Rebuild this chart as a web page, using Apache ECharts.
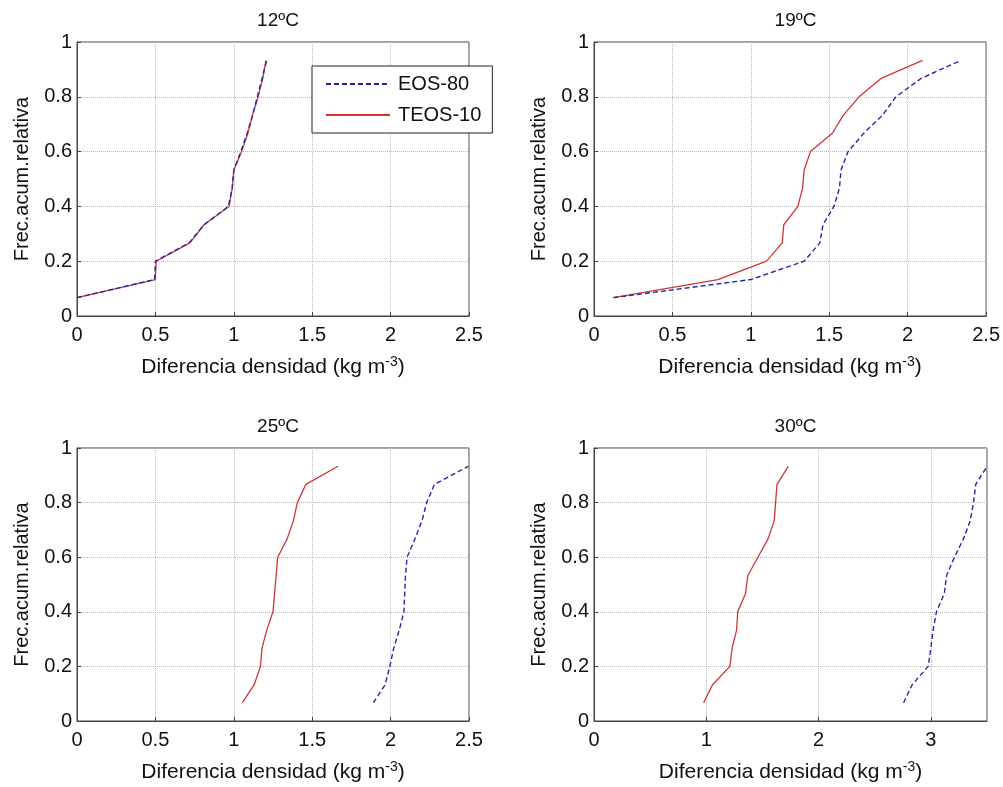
<!DOCTYPE html>
<html>
<head>
<meta charset="utf-8">
<script src="https://cdn.jsdelivr.net/npm/echarts@6/dist/echarts.min.js"></script>
<style>
html,body{margin:0;padding:0;background:#fff;}
#chart{width:1003px;height:787px;}
</style>
</head>
<body>
<div id="chart"></div>
<script>
// cumulative relative frequency (shared y values)
const yFrac = [0.067, 0.133, 0.2, 0.267, 0.333, 0.4, 0.467, 0.533, 0.6, 0.667, 0.733, 0.8, 0.867, 0.933];

const panelTitles = ['12ºC', '19ºC', '25ºC', '30ºC'];
const seriesNames = ['EOS-80', 'TEOS-10'];
const xMaxes = [2.5, 2.5, 2.5, 3.5];
const xIntervals = [0.5, 0.5, 0.5, 1];

// 12ºC
const eos12  = [0.0, 0.495, 0.50, 0.715, 0.81, 0.965, 0.99, 1.00, 1.045, 1.085, 1.12, 1.15, 1.18, 1.21];
const teos12 = [0.0, 0.50, 0.505, 0.72, 0.81, 0.97, 0.99, 1.00, 1.05, 1.09, 1.12, 1.155, 1.185, 1.205];
// 19ºC
const eos19  = [0.123, 1.00, 1.34, 1.44, 1.46, 1.53, 1.565, 1.575, 1.62, 1.72, 1.84, 1.925, 2.085, 2.34];
const teos19 = [0.123, 0.79, 1.10, 1.20, 1.21, 1.30, 1.33, 1.34, 1.38, 1.52, 1.59, 1.69, 1.83, 2.095];
// 25ºC
const eos25  = [1.89, 1.965, 1.995, 2.02, 2.055, 2.085, 2.09, 2.095, 2.105, 2.155, 2.20, 2.23, 2.28, 2.495];
const teos25 = [1.055, 1.13, 1.17, 1.18, 1.21, 1.25, 1.26, 1.27, 1.28, 1.34, 1.38, 1.405, 1.46, 1.665];
// 30ºC
const eos30  = [2.757, 2.834, 2.976, 3.00, 3.02, 3.05, 3.12, 3.14, 3.21, 3.29, 3.35, 3.38, 3.40, 3.50];
const teos30 = [0.976, 1.056, 1.21, 1.23, 1.27, 1.28, 1.35, 1.37, 1.46, 1.55, 1.605, 1.617, 1.63, 1.73];

const eosAll = [eos12, eos19, eos25, eos30];
const teosAll = [teos12, teos19, teos25, teos30];

const FONT = 'Liberation Sans, Arial, sans-serif';
const BLUE = '#2028a8';
const RED = '#d03535';

const grids = [
  {left: 77, top: 42, width: 392, height: 274},
  {left: 594, top: 42, width: 393, height: 274},
  {left: 77, top: 448, width: 392, height: 273},
  {left: 594, top: 448, width: 393, height: 273}
];

function pairs(xs) { return xs.map((x, i) => [x, yFrac[i]]); }

const option = {
  animation: false,
  backgroundColor: '#fff',
  textStyle: {fontFamily: FONT},
  title: grids.map((g, i) => ({
    text: panelTitles[i],
    left: g.left + g.width / 2,
    top: g.top - 36,
    textAlign: 'center',
    textStyle: {fontFamily: FONT, fontSize: 19, fontWeight: 'normal', color: '#111'}
  })),
  legend: {
    data: seriesNames,
    orient: 'vertical',
    left: 312,
    top: 66,
    padding: [8, 11, 8, 13],
    itemGap: 11,
    itemWidth: 64,
    itemHeight: 14,
    backgroundColor: '#fff',
    borderColor: '#222',
    borderWidth: 1,
    borderRadius: 0,
    itemStyle: {opacity: 0},
    textStyle: {fontFamily: FONT, fontSize: 20, color: '#111', padding: [0, 0, 0, 3]}
  },
  grid: grids.map(g => ({
    left: g.left, top: g.top, width: g.width, height: g.height,
    show: true, borderColor: '#444', borderWidth: 1, backgroundColor: '#fff'
  })),
  xAxis: grids.map((g, i) => ({
    type: 'value',
    gridIndex: i,
    min: 0,
    max: xMaxes[i],
    interval: xIntervals[i],
    name: 'Diferencia densidad (kg m{sup|-3})',
    nameLocation: 'middle',
    nameGap: 39,
    nameTextStyle: {
      fontFamily: FONT, fontSize: 21, color: '#111', lineHeight: 24,
      rich: {sup: {fontFamily: FONT, fontSize: 14, color: '#111', verticalAlign: 'top', lineHeight: 12}}
    },
    axisLine: {show: true, lineStyle: {color: '#444', width: 1}},
    axisTick: {show: true, inside: true, length: 4, lineStyle: {color: '#444'}},
    axisLabel: {fontFamily: FONT, fontSize: 20, color: '#111', margin: 9,
      showMaxLabel: xMaxes[i] % xIntervals[i] === 0,
      formatter: v => String(+v.toFixed(2))},
    splitLine: {show: true, lineStyle: {color: '#bbbbbb', type: 'dotted', width: 1}}
  })),
  yAxis: grids.map((g, i) => ({
    type: 'value',
    gridIndex: i,
    min: 0,
    max: 1,
    interval: 0.2,
    name: 'Frec.acum.relativa',
    nameLocation: 'middle',
    nameGap: 45,
    nameTextStyle: {fontFamily: FONT, fontSize: 20, color: '#111'},
    axisLine: {show: true, lineStyle: {color: '#444', width: 1}},
    axisTick: {show: true, inside: true, length: 4, lineStyle: {color: '#444'}},
    axisLabel: {fontFamily: FONT, fontSize: 20, color: '#111', margin: 5,
      formatter: v => String(+v.toFixed(1))},
    splitLine: {show: true, lineStyle: {color: '#bbbbbb', type: 'dotted', width: 1}}
  })),
  series: []
};

for (let i = 0; i < 4; i++) {
  option.series.push({
    name: 'TEOS-10', type: 'line', xAxisIndex: i, yAxisIndex: i,
    data: pairs(teosAll[i]), symbol: 'none', showSymbol: false,
    lineStyle: {color: RED, width: 1.3, type: 'solid'},
    itemStyle: {color: RED}, z: 2
  });
  option.series.push({
    name: 'EOS-80', type: 'line', xAxisIndex: i, yAxisIndex: i,
    data: pairs(eosAll[i]), symbol: 'none', showSymbol: false,
    lineStyle: {color: BLUE, width: 1.4, type: [5, 3]},
    itemStyle: {color: BLUE}, z: 3
  });
}

const chart = echarts.init(document.getElementById('chart'), null, {renderer: 'canvas'});
chart.setOption(option);
</script>
</body>
</html>
